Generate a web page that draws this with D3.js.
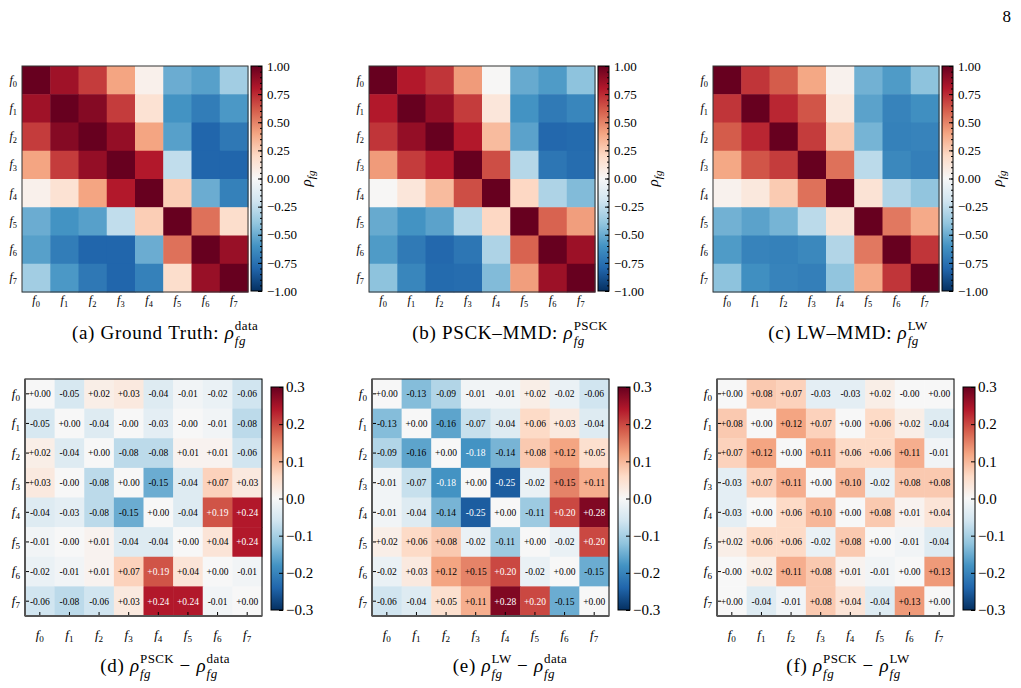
<!DOCTYPE html>
<html><head><meta charset="utf-8">
<script src="https://cdn.jsdelivr.net/npm/d3@7"></script>
<style>
body{margin:0;background:#fff}
svg{display:block}
text{font-family:"Liberation Serif","DejaVu Serif",serif;fill:#000}
</style>
</head><body>
<svg id="chart" width="1021" height="688"></svg>
<script>
// ---------- data ----------
const features = ["0","1","2","3","4","5","6","7"];

const groundTruth = [
  [ 1.00, 0.85, 0.70, 0.40, 0.05,-0.50,-0.55,-0.35],
  [ 0.85, 1.00, 0.92, 0.70, 0.15,-0.60,-0.70,-0.58],
  [ 0.70, 0.92, 1.00, 0.88, 0.40,-0.55,-0.80,-0.72],
  [ 0.40, 0.70, 0.88, 1.00, 0.80,-0.25,-0.80,-0.80],
  [ 0.05, 0.15, 0.40, 0.80, 1.00, 0.25,-0.50,-0.68],
  [-0.50,-0.60,-0.55,-0.25, 0.25, 1.00, 0.55, 0.18],
  [-0.55,-0.70,-0.80,-0.80,-0.50, 0.55, 1.00, 0.87],
  [-0.35,-0.58,-0.72,-0.80,-0.68, 0.18, 0.87, 1.00]
];
const psck = [
  [ 1.00, 0.80, 0.72, 0.43, 0.01,-0.51,-0.57,-0.41],
  [ 0.80, 1.00, 0.88, 0.70, 0.12,-0.60,-0.71,-0.66],
  [ 0.72, 0.88, 1.00, 0.80, 0.32,-0.54,-0.79,-0.78],
  [ 0.43, 0.70, 0.80, 1.00, 0.65,-0.29,-0.73,-0.77],
  [ 0.01, 0.12, 0.32, 0.65, 1.00, 0.21,-0.31,-0.44],
  [-0.51,-0.60,-0.54,-0.29, 0.21, 1.00, 0.59, 0.42],
  [-0.57,-0.71,-0.79,-0.73,-0.31, 0.59, 1.00, 0.86],
  [-0.41,-0.66,-0.78,-0.77,-0.44, 0.42, 0.86, 1.00]
];
const lw = [
  [ 1.00, 0.72, 0.61, 0.39, 0.04,-0.48,-0.57,-0.41],
  [ 0.72, 1.00, 0.76, 0.63, 0.11,-0.54,-0.67,-0.62],
  [ 0.61, 0.76, 1.00, 0.70, 0.26,-0.47,-0.68,-0.67],
  [ 0.39, 0.63, 0.70, 1.00, 0.55,-0.27,-0.65,-0.69],
  [ 0.04, 0.11, 0.26, 0.55, 1.00, 0.14,-0.30,-0.40],
  [-0.48,-0.54,-0.47,-0.27, 0.14, 1.00, 0.53, 0.38],
  [-0.57,-0.67,-0.68,-0.65,-0.30, 0.53, 1.00, 0.72],
  [-0.41,-0.62,-0.67,-0.69,-0.40, 0.38, 0.72, 1.00]
];
const diffPsckData = [
  [ 0.00,-0.05, 0.02, 0.03,-0.04,-0.01,-0.02,-0.06],
  [-0.05, 0.00,-0.04,-0.00,-0.03,-0.00,-0.01,-0.08],
  [ 0.02,-0.04, 0.00,-0.08,-0.08, 0.01, 0.01,-0.06],
  [ 0.03,-0.00,-0.08, 0.00,-0.15,-0.04, 0.07, 0.03],
  [-0.04,-0.03,-0.08,-0.15, 0.00,-0.04, 0.19, 0.24],
  [-0.01,-0.00, 0.01,-0.04,-0.04, 0.00, 0.04, 0.24],
  [-0.02,-0.01, 0.01, 0.07, 0.19, 0.04, 0.00,-0.01],
  [-0.06,-0.08,-0.06, 0.03, 0.24, 0.24,-0.01, 0.00]
];
const diffLwData = [
  [ 0.00,-0.13,-0.09,-0.01,-0.01, 0.02,-0.02,-0.06],
  [-0.13, 0.00,-0.16,-0.07,-0.04, 0.06, 0.03,-0.04],
  [-0.09,-0.16, 0.00,-0.18,-0.14, 0.08, 0.12, 0.05],
  [-0.01,-0.07,-0.18, 0.00,-0.25,-0.02, 0.15, 0.11],
  [-0.01,-0.04,-0.14,-0.25, 0.00,-0.11, 0.20, 0.28],
  [ 0.02, 0.06, 0.08,-0.02,-0.11, 0.00,-0.02, 0.20],
  [-0.02, 0.03, 0.12, 0.15, 0.20,-0.02, 0.00,-0.15],
  [-0.06,-0.04, 0.05, 0.11, 0.28, 0.20,-0.15, 0.00]
];
const diffPsckLw = [
  [ 0.00, 0.08, 0.07,-0.03,-0.03, 0.02,-0.00, 0.00],
  [ 0.08, 0.00, 0.12, 0.07, 0.00, 0.06, 0.02,-0.04],
  [ 0.07, 0.12, 0.00, 0.11, 0.06, 0.06, 0.11,-0.01],
  [-0.03, 0.07, 0.11, 0.00, 0.10,-0.02, 0.08, 0.08],
  [-0.03, 0.00, 0.06, 0.10, 0.00, 0.08, 0.01, 0.04],
  [ 0.02, 0.06, 0.06,-0.02, 0.08, 0.00,-0.01,-0.04],
  [-0.00, 0.02, 0.11, 0.08, 0.01,-0.01, 0.00, 0.13],
  [ 0.00,-0.04,-0.01, 0.08, 0.04,-0.04, 0.13, 0.00]
];

const topTicks = [-1.00,-0.75,-0.50,-0.25,0.00,0.25,0.50,0.75,1.00];
const topMinorTicks = d3.range(-20, 21).map(i => i * 0.05);
const bottomTicks = [-0.3,-0.2,-0.1,0.0,0.1,0.2,0.3];

const captionsTop = [
  {label: "(a) Ground Truth: ", sup: "data"},
  {label: "(b) PSCK–MMD: ", sup: "PSCK"},
  {label: "(c) LW–MMD: ", sup: "LW"}
];
const captionsBottom = [
  {label: "(d) ", supA: "PSCK", supB: "data"},
  {label: "(e) ", supA: "LW", supB: "data"},
  {label: "(f) ", supA: "PSCK", supB: "LW"}
];

// ---------- drawing ----------
const svg = d3.select("#chart");
const rdbu = ["#053061","#2166ac","#4393c3","#92c5de","#d1e5f0","#f7f7f7",
              "#fddbc7","#f4a582","#d6604d","#b2182b","#67001f"];

const defs = svg.append("defs");
const grad = defs.append("linearGradient").attr("id","rdbuGrad")
  .attr("x1",0).attr("y1",1).attr("x2",0).attr("y2",0);
rdbu.forEach((c,i)=>grad.append("stop").attr("offset", (i*10)+"%").attr("stop-color", c));

function fmtCell(v){
  const neg = v < 0 || Object.is(v, -0);
  return (neg ? "-" : "+") + Math.abs(v).toFixed(2);
}

function drawPanel(p){
  const g = svg.append("g");
  const xb = d3.scaleBand().domain(features).range([p.x, p.x + p.size]);
  const yb = d3.scaleBand().domain(features).range([p.y, p.y + p.size]);
  const bw = xb.bandwidth();
  const color = d3.scaleLinear()
    .domain(d3.range(11).map(i => p.lo + (p.hi - p.lo) * i / 10))
    .range(rdbu).interpolate(d3.interpolateRgb).clamp(true);

  const cells = p.matrix.flatMap((row,i)=>row.map((v,j)=>({i,j,v})));
  g.selectAll("rect.cell").data(cells).join("rect")
    .attr("class","cell")
    .attr("x", d => xb(features[d.j]))
    .attr("y", d => yb(features[d.i]))
    .attr("width", bw + 0.5).attr("height", bw + 0.5)
    .attr("fill", d => color(d.v));

  if (p.annotate){
    g.selectAll("text.val").data(cells).join("text")
      .attr("class","val")
      .attr("x", d => xb(features[d.j]) + bw/2)
      .attr("y", d => yb(features[d.i]) + bw/2)
      .attr("dy","0.35em").attr("text-anchor","middle")
      .style("font-size","9.5px")
      .style("fill", d => Math.abs(d.v) > 0.165 ? "#fff" : "#000")
      .text(d => fmtCell(d.v));
    features.forEach(f=>{
      g.append("line").attr("x1",p.x).attr("x2",p.x+4)
        .attr("y1",yb(f)+bw/2).attr("y2",yb(f)+bw/2).attr("stroke","#000");
      g.append("line").attr("y1",p.y+p.size).attr("y2",p.y+p.size-4)
        .attr("x1",xb(f)+bw/2).attr("x2",xb(f)+bw/2).attr("stroke","#000");
    });
    g.append("rect").attr("x",p.x).attr("y",p.y).attr("width",p.size).attr("height",p.size)
      .attr("fill","none").attr("stroke","#000").attr("stroke-width",1);
    g.append("line").attr("x1",p.x).attr("x2",p.x).attr("y1",p.y).attr("y2",p.y+p.size)
      .attr("stroke","#555").attr("stroke-width",2);
    g.append("line").attr("x1",p.x).attr("x2",p.x+p.size).attr("y1",p.y+p.size).attr("y2",p.y+p.size)
      .attr("stroke","#555").attr("stroke-width",2);
  } else {
    g.append("rect").attr("x",p.x).attr("y",p.y).attr("width",p.size).attr("height",p.size)
      .attr("fill","none").attr("stroke","#333").attr("stroke-width",1);
  }

  features.forEach(f=>{
    const t = g.append("text").attr("x", p.x - 5).attr("y", yb(f) + bw/2)
      .attr("dy","0.3em").attr("text-anchor","end").style("font-size", p.lfs+"px");
    t.append("tspan").style("font-style","italic").text("f");
    t.append("tspan").attr("dy", p.lfs*0.25).style("font-size",(p.lfs*0.7)+"px").text(f);
    const tx = g.append("text").attr("x", xb(f) + bw/2).attr("y", p.xLabelY)
      .attr("text-anchor","middle").style("font-size", p.lfs+"px");
    tx.append("tspan").style("font-style","italic").text("f");
    tx.append("tspan").attr("dy", p.lfs*0.25).style("font-size",(p.lfs*0.7)+"px").text(f);
  });

  const cb = p.cb;
  g.append("rect").attr("x",cb.x).attr("y",cb.y).attr("width",cb.w).attr("height",cb.h)
    .attr("fill","url(#rdbuGrad)").attr("stroke","#000").attr("stroke-width",1);
  const cs = d3.scaleLinear().domain([p.lo,p.hi]).range([cb.y+cb.h, cb.y]);
  if (p.minor){
    const am = g.append("g").attr("transform",`translate(${cb.x+cb.w},0)`)
      .call(d3.axisRight(cs).tickValues(p.minor).tickSize(-2).tickFormat(""));
    am.select(".domain").remove();
  }
  const ax = g.append("g").attr("transform",`translate(${cb.x+cb.w},0)`)
    .call(d3.axisRight(cs).tickValues(p.ticks).tickSize(-4).tickPadding(p.pad).tickFormat(d3.format(p.fmt)));
  ax.select(".domain").remove();
  ax.selectAll("text").style("font-family",'"Liberation Serif","DejaVu Serif",serif')
    .style("font-size", p.cfs+"px");

  if (p.rhoX){
    const rg = g.append("g").attr("transform",`translate(${p.rhoX},${cb.y+cb.h/2}) rotate(-90)`);
    const rt = rg.append("text").attr("text-anchor","middle").style("font-size","15px");
    rt.append("tspan").style("font-style","italic").text("ρ");
    rt.append("tspan").attr("dy",4).style("font-size","11px").style("font-style","italic").text("fg");
  }
}

function rho(g, x, sup){
  const fs = 19, ss = 13;
  const r = g.append("text").attr("x",x).attr("y",0).style("font-size",fs+"px").style("font-style","italic").text("ρ");
  x += r.node().getComputedTextLength() + 1;
  const sb = g.append("text").attr("x",x).attr("y",6).style("font-size",ss+"px").style("font-style","italic").style("letter-spacing","0.5px").text("fg");
  const sp = g.append("text").attr("x",x).attr("y",-9).style("font-size",ss+"px").style("letter-spacing","0.4px").text(sup);
  return x + Math.max(sb.node().getComputedTextLength(), sp.node().getComputedTextLength());
}

function caption(cx, base, parts){
  const g = svg.append("g");
  let x = 0;
  parts.forEach(pt=>{
    if (typeof pt === "string"){
      const t = g.append("text").attr("x",x).attr("y",0).style("font-size","19px")
        .style("letter-spacing","0.7px")
        .text(pt.replace(/ /g,"\u00A0"));
      x += t.node().getComputedTextLength();
    } else {
      x = rho(g, x, pt.sup);
    }
  });
  g.attr("transform",`translate(${cx - x/2},${base})`);
}

const topMats = [groundTruth, psck, lw];
const topX = [22, 369, 713];
topMats.forEach((m,k)=>{
  drawPanel({x: topX[k], y: 66, size: 226, matrix: m, lo: -1, hi: 1, annotate: false,
    lfs: 12, xLabelY: 304,
    cb: {x: topX[k]+229, y: 66, w: 11, h: 225},
    ticks: topTicks, minor: topMinorTicks, fmt: ".2f", pad: 5, cfs: 13,
    rhoX: topX[k] + 289});
});
const botMats = [diffPsckData, diffLwData, diffPsckLw];
const botX = [25, 372, 717];
botMats.forEach((m,k)=>{
  drawPanel({x: botX[k], y: 379, size: 237, matrix: m, lo: -0.3, hi: 0.3, annotate: true,
    lfs: 13, xLabelY: 639,
    cb: {x: botX[k]+246, y: 387, w: 12, h: 223},
    ticks: bottomTicks, fmt: ".1f", pad: 3, cfs: 15});
});

const capX = [165, 510, 848];
captionsTop.forEach((c,k)=> caption(capX[k], 339, [c.label, {sup: c.sup}]));
captionsBottom.forEach((c,k)=> caption(capX[k], 672, [c.label, {sup: c.supA}, " − ", {sup: c.supB}]));

svg.append("text").attr("x",1011).attr("y",22).attr("text-anchor","end").style("font-size","17px").text("8");
</script>
</body></html>
